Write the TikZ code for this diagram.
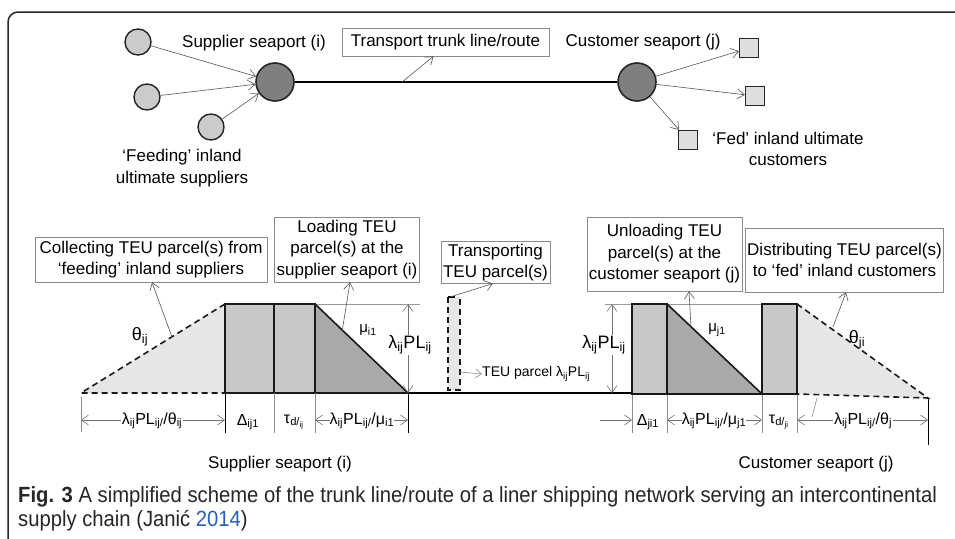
\documentclass[tikz,border=0pt]{standalone}
\usepackage{fontspec}
\setmainfont{Liberation Sans}
\newfontfamily\capfont[FakeStretch=0.92]{Liberation Sans}
\usetikzlibrary{arrows.meta}
\newcommand\sbs[1]{\textsubscript{#1}}
\definecolor{lightfill}{HTML}{E6E6E6}
\definecolor{rectfill}{HTML}{C8C8C8}
\definecolor{darkfill}{HTML}{A9A9A9}
\definecolor{portfill}{HTML}{7F7F7F}
\definecolor{smallfill}{HTML}{CBCBCB}
\definecolor{sqfill}{HTML}{DEDEDE}
\definecolor{boxline}{HTML}{8A8A8A}
\definecolor{arrline}{HTML}{555555}
\definecolor{citeblue}{HTML}{2B5FB4}
\tikzset{
  lbl/.style={inner sep=0pt, font=\fontsize{17}{21.5}\selectfont},
  sml/.style={inner sep=0pt, font=\fontsize{15}{18}\selectfont},
  dlbl/.style={inner sep=1pt, fill=white, font=\fontsize{16}{19}\selectfont},
  tbox/.style={draw=boxline, line width=0.7pt, fill=white, align=center, inner sep=2pt,
    font=\fontsize{17}{21.5}\selectfont},
  smallc/.style={circle, draw=black!85, line width=1.4pt, fill=smallfill, minimum size=26pt, inner sep=0pt},
  bigc/.style={circle, draw=black!85, line width=1.6pt, fill=portfill, minimum size=38pt, inner sep=0pt},
  sq/.style={rectangle, draw=black!85, line width=1.4pt, fill=sqfill, minimum size=19pt, inner sep=0pt},
  arr/.style={draw=arrline, line width=0.6pt, -{Straight Barb[length=7pt,width=10pt]}},
  dimarr/.style={draw=black!55, line width=0.6pt, {Straight Barb[length=7pt,width=10pt]}-{Straight Barb[length=7pt,width=10pt]}},
  tick/.style={draw=black!45, line width=0.6pt},
  btick/.style={draw=black, line width=0.8pt},
  thick2/.style={draw=black!90, line width=1.6pt},
  dash2/.style={draw=black!90, line width=1.6pt, dash pattern=on 6pt off 4pt},
  guide/.style={draw=black!40, line width=0.6pt},
  captxt/.style={anchor=west, inner sep=0pt, text=black!85, font=\capfont\fontsize{22}{26}\selectfont},
}
\begin{document}
\begin{tikzpicture}[x=1pt,y=-1pt]
\useasboundingbox (0,0) rectangle (955,538);
\fill[white] (0,0) rectangle (955,538);
% frame
\draw[draw=black!85, line width=1.5pt, rounded corners=10pt] (8,545) -- (8,12) -- (965,12);

% ---------- top network ----------
\node[smallc] (s1) at (138,42) {};
\node[smallc] (s2) at (147,97) {};
\node[smallc] (s3) at (211,127) {};
\node[bigc] (P) at (275,82) {};
\node[bigc] (Q) at (637,82) {};
\node[sq] (c1) at (749,48) {};
\node[sq] (c2) at (755,96) {};
\node[sq] (c3) at (688,140) {};
\draw[draw=black, line width=1.6pt] (P) -- (Q);
\draw[arr] (s1) -- (P);
\draw[arr] (s2) -- (P);
\draw[arr] (s3) -- (P);
\draw[arr] (Q) -- (c1);
\draw[arr] (Q) -- (c2);
\draw[arr] (Q) -- (c3);
\node[tbox, minimum width=207pt, minimum height=28pt] (trunk) at (445.5,42) {Transport trunk line/route};
\coordinate (tp) at (402,82);
\draw[arr] (tp) -- ([xshift=-12pt]trunk.south);
\node[lbl] (suppT) at (254,43) {Supplier seaport (i)};
\node[lbl] (custT) at (643,42) {Customer seaport (j)};
\node[lbl, align=center] (feedT) at (182,168) {‘Feeding’ inland\\ultimate suppliers};
\node[lbl, align=center] (fedT) at (788,149) {‘Fed’ inland ultimate\\customers};

% ---------- lower scheme ----------
% guide lines at top
\draw[guide] (315,304) -- (420,304);
\draw[guide] (605,304) -- (797,304);
% supplier side
\fill[lightfill] (81,393) -- (225,304) -- (225,393) -- cycle;
\draw[dash2] (225,304) -- (81,393) -- (225,393);
\fill[darkfill] (315,304) -- (408,393) -- (315,393) -- cycle;
\draw[thick2] (315,304) -- (408,393) -- (315,393);
\draw[thick2, fill=rectfill] (225,304) rectangle (274,393);
\draw[thick2, fill=rectfill] (274,304) rectangle (315,393);
% baseline
\draw[draw=black, line width=1.6pt] (408,393) -- (632,393);
% transport parcel
\fill[lightfill] (448,297) rectangle (460,390);
\draw[dash2] (448,297) -- (448,390) -- (460,390) -- (460,297);
\draw[draw=black, line width=1.6pt] (448,297) -- (455,297);
% customer side
\fill[darkfill] (667,304) -- (762,394) -- (667,394) -- cycle;
\draw[thick2] (667,304) -- (762,394) -- (667,394);
\draw[thick2, fill=rectfill] (632,304) rectangle (667,394);
\fill[lightfill] (797,304) -- (928,398) -- (797,394) -- cycle;
\draw[dash2] (797,304) -- (928,398) -- (797,394);
\draw[thick2, fill=rectfill] (762,304) rectangle (797,394);

% labels inside
\node[lbl, font=\fontsize{18}{21}\selectfont] (thij) at (140,337) {θ\sbs{ij}};
\node[sml] (mui) at (368,330) {μ\sbs{i1}};
\node[sml] (muj) at (717,330) {μ\sbs{j1}};
\node[lbl, font=\fontsize{18}{21}\selectfont] (thji) at (857,340) {θ\sbs{ji}};

% vertical dimension arrows
\coordinate (v1t) at (408,304); \coordinate (v1b) at (408,393);
\draw[dimarr] (v1t) -- (v1b);
\node[dlbl, font=\fontsize{18}{21}\selectfont] (v1l) at (410,345) {λ\sbs{ij}PL\sbs{ij}};
\coordinate (v2t) at (612,304); \coordinate (v2b) at (612,393);
\draw[dimarr] (v2t) -- (v2b);
\node[dlbl, font=\fontsize{18}{21}\selectfont] (v2l) at (604,345) {λ\sbs{ij}PL\sbs{ij}};

% TEU parcel label
\coordinate (tpa) at (460,372);
\node[sml, anchor=west, font=\fontsize{14}{17}\selectfont] (teu) at (482,374) {TEU parcel λ\sbs{ij}PL\sbs{ij}};
\draw[draw=black!45, line width=0.6pt, -{Straight Barb[length=6pt,width=9pt]}] (tpa) -- (teu.west);

% boxes
\node[tbox, minimum width=232pt, minimum height=45pt] (collect) at (151,259.5) {Collecting TEU parcel(s) from\\‘feeding’ inland suppliers};
\node[tbox, minimum width=142pt, minimum height=65pt] (load) at (347,249.5) {Loading TEU\\parcel(s) at the\\supplier seaport (i)};
\node[tbox, minimum width=109pt, minimum height=39pt] (transp) at (495.5,262.5) {Transporting\\TEU parcel(s)};
\node[tbox, minimum width=147pt, minimum height=74pt] (unload) at (664.5,254) {Unloading TEU\\parcel(s) at the\\customer seaport (j)};
\node[tbox, minimum width=195pt, minimum height=64pt] (distrib) at (844.5,260) {Distributing TEU parcel(s)\\to ‘fed’ inland customers};

\coordinate (a1) at (172,337);
\coordinate (a2) at (342,332);
\coordinate (a3) at (450,297);
\coordinate (a4) at (691,327);
\coordinate (a5) at (833,327);
\draw[arr] (a1) -- ([xshift=1pt]collect.south);
\draw[arr] (a2) -- ([xshift=3pt]load.south);
\draw[arr] (a3) -- ([xshift=-2.5pt]transp.south);
\draw[arr] (a4) -- ([xshift=24.5pt]unload.south);
\draw[arr] (a5) -- ([xshift=1.5pt]distrib.south);

% ---------- dimension row ----------
\draw[tick] (81,397) -- (81,432);
\draw[btick] (225,393) -- (225,433);
\draw[tick] (274,393) -- (274,433);
\draw[tick] (315,393) -- (315,433);
\draw[btick] (408,393) -- (408,433);
\draw[tick] (632,395) -- (632,433);
\draw[tick] (667,395) -- (667,433);
\draw[tick] (762,395) -- (762,433);
\draw[tick] (797,395) -- (797,433);
\draw[btick] (928,398) -- (928,445);
\draw[tick] (817,398) -- (812,417);

\coordinate (d1a) at (81,420); \coordinate (d1b) at (225,420);
\draw[dimarr] (d1a) -- (d1b);
\node[dlbl] (d1l) at (152,421) {λ\sbs{ij}PL\sbs{ij/}/θ\sbs{ij}};
\node[dlbl] (dl) at (248,422) {Δ\sbs{ij1}};
\node[dlbl] (tl) at (294,422) {τ\sbs{d/\sbs{ij}}};
\coordinate (d2a) at (315,420); \coordinate (d2b) at (408,420);
\draw[dimarr] (d2a) -- (d2b);
\node[dlbl, inner sep=0pt] (d2l) at (362,421) {λ\sbs{ij}PL\sbs{ij/}/μ\sbs{i1}};

\coordinate (d3a) at (600,420); \coordinate (d3b) at (632,420);
\draw[draw=black!55, line width=0.6pt, -{Straight Barb[length=7pt,width=10pt]}] (d3a) -- (d3b);
\node[dlbl] (djl) at (648,422) {Δ\sbs{ji1}};
\coordinate (d4a) at (667,420); \coordinate (d4b) at (762,420);
\draw[dimarr] (d4a) -- (d4b);
\node[dlbl, inner sep=0pt] (d4l) at (714,421) {λ\sbs{ij}PL\sbs{ij/}/μ\sbs{j1}};
\node[dlbl] (tjl) at (779,422) {τ\sbs{d/\sbs{ji}}};
\coordinate (d5a) at (797,420); \coordinate (d5b) at (928,420);
\draw[dimarr] (d5a) -- (d5b);
\node[dlbl] (d5l) at (863,421) {λ\sbs{ij}PL\sbs{ij/}/θ\sbs{j}};

\node[lbl] (suppB) at (280,464) {Supplier seaport (i)};
\node[lbl] (custB) at (816,464) {Customer seaport (j)};

% ---------- caption ----------
\node[captxt] (cap1) at (18,497)
  {\textbf{Fig. 3} A simplified scheme of the trunk line/route of a liner shipping network serving an intercontinental};
\node[captxt] (cap2) at (18,521)
  {supply chain (Janić \textcolor{citeblue}{2014})};
\end{tikzpicture}
\end{document}
